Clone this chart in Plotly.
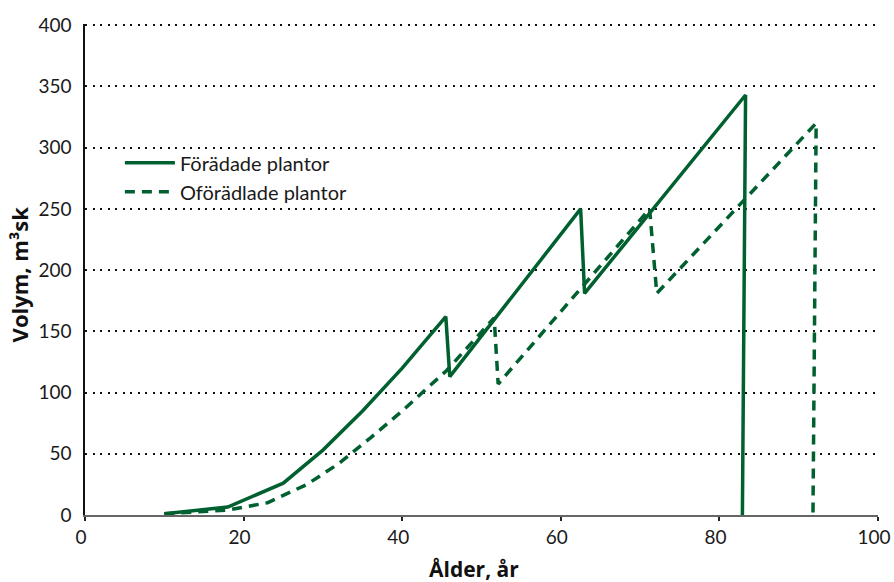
import plotly.graph_objects as go

# Förädlade plantor (solid)
age_foradlade = [10, 18, 25, 30, 35, 40, 45.5, 46.0, 62.5, 63.0, 83.3, 82.9]
vol_foradlade = [1, 6.5, 26, 53, 85, 120, 162, 113, 250, 181, 343, 0]

# Oförädlade plantor (dashed)
age_oforadlade = [10, 18, 23, 28, 32, 36, 40, 45.6, 51.6, 52.1, 71.2, 72.1, 92.2, 91.8]
vol_oforadlade = [1, 4, 10, 25, 42, 63, 85, 118, 161, 107, 250, 181, 320, 0]

series_names = ["Förädade plantor", "Oförädlade plantor"]
x_ticks = [0, 20, 40, 60, 80, 100]
y_ticks = [0, 50, 100, 150, 200, 250, 300, 350, 400]
x_title = "Ålder, år"
y_title = "Volym, m³sk"

GREEN = "#00602f"
FONT = "Lato"
TITLE_FONT = "Open Sans"

fig = go.Figure()
fig.add_trace(go.Scatter(x=age_foradlade, y=vol_foradlade, mode="lines",
                         name=series_names[0],
                         line=dict(color=GREEN, width=3.5)))
fig.add_trace(go.Scatter(x=age_oforadlade, y=vol_oforadlade, mode="lines",
                         name=series_names[1],
                         line=dict(color=GREEN, width=3.5, dash="10px,7px")))

fig.update_layout(
    width=894, height=582,
    margin=dict(l=85, r=16, t=24, b=67, autoexpand=False),
    paper_bgcolor="white", plot_bgcolor="white",
    font=dict(family=FONT, size=19, color="#1a1a1a"),
    showlegend=True,
    legend=dict(x=0.044, y=0.757, xanchor="left", yanchor="top",
                bgcolor="rgba(0,0,0,0)", font=dict(size=20, color="#1a1a1a"),
                itemwidth=50, tracegroupgap=0),
    xaxis=dict(range=[0, 100], tickvals=x_ticks, ticktext=[str(v) for v in x_ticks],
               automargin=False, ticklabeloverflow="allow", ticklabelshift=-4,
               showgrid=False, zeroline=False,
               showline=True, linecolor="#666666", linewidth=2,
               ticks="outside", ticklen=4, tickwidth=1.5, tickcolor="#222222"),
    yaxis=dict(range=[0, 401], tickvals=y_ticks, ticktext=[str(v) for v in y_ticks],
               automargin=False,
               showgrid=True, gridcolor="#111111", gridwidth=2, griddash="2px,5.5px",
               zeroline=False,
               showline=True, linecolor="#111111", linewidth=1.5,
               ticks="", ticklabelstandoff=8),
    annotations=[
        dict(text="<b>" + x_title + "</b>", xref="paper", yref="paper",
             x=0.49, y=0, yshift=-54, xanchor="center", yanchor="middle",
             showarrow=False,
             font=dict(family=TITLE_FONT, size=21, color="#111111")),
        dict(text="<b>" + y_title + "</b>", xref="paper", yref="paper",
             x=0, y=0.49, xshift=-66, xanchor="center", yanchor="middle",
             textangle=-90, showarrow=False,
             font=dict(family=TITLE_FONT, size=22, color="#111111")),
    ],
)

fig.write_html("out.html", config={"displayModeBar": False},
               post_script="document.body.style.margin='0';document.body.style.overflow='hidden';")
